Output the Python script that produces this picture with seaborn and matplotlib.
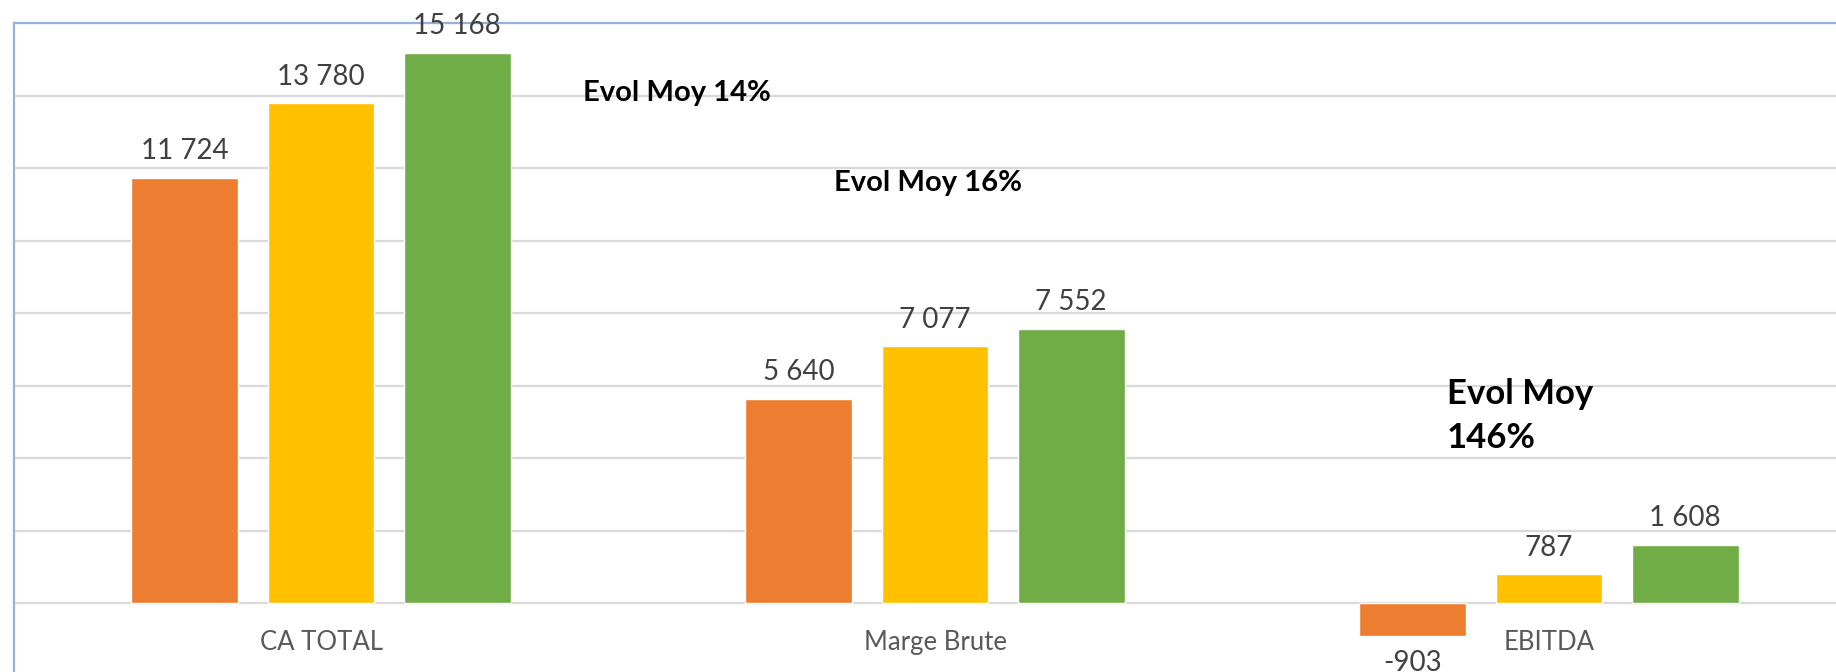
import matplotlib
matplotlib.use('Agg')
import matplotlib.pyplot as plt
import seaborn as sns
import pandas as pd

# Data
categories = ['CA TOTAL', 'Marge Brute', 'EBITDA']
series = ['Année 1', 'Année 2', 'Année 3']
annee1 = [11724, 5640, -903]
annee2 = [13780, 7077, 787]
annee3 = [15168, 7552, 1608]
colors = ['#ED7D31', '#FFC000', '#70AD47']

notes = ['Evol Moy 14%', 'Evol Moy 16%', 'Evol Moy\n146%']

rows = []
for s, vals in zip(series, [annee1, annee2, annee3]):
    for c, v in zip(categories, vals):
        rows.append({'categorie': c, 'serie': s, 'valeur': v})
df = pd.DataFrame(rows)

sns.set_style('white')
plt.rcParams['font.family'] = ['Lato', 'DejaVu Sans']

fig = plt.figure(figsize=(18.36, 6.72), dpi=100)
ax = fig.add_axes([14 / 1836, 0, 1842 / 1836, 1 - 23 / 672])

sns.barplot(data=df, x='categorie', y='valeur', hue='serie', order=categories,
            hue_order=series, palette=colors, saturation=1, errorbar=None,
            width=0.665, gap=0.214, legend=False, ax=ax)

ax.set_xlim(-0.5, 2.5)
ax.set_ylim(-1903, 16000)
ax.set_yticks(range(0, 16001, 2000))
ax.yaxis.grid(True, color='#D9D9D9', linewidth=1.6)
ax.set_axisbelow(True)
ax.tick_params(left=False, bottom=False, labelleft=False, labelbottom=False)
ax.set_xlabel('')
ax.set_ylabel('')

for side in ['bottom', 'right']:
    ax.spines[side].set_visible(False)
for side in ['top', 'left']:
    ax.spines[side].set_color('#95B3D7')
    ax.spines[side].set_linewidth(1.6)

# data labels with space as thousands separator
for cont in ax.containers:
    labels = [f'{b.get_height():,.0f}'.replace(',', ' ') for b in cont]
    ax.bar_label(cont, labels=labels, padding=10, fontsize=20, color='#404040')

# category labels
for i, c in enumerate(categories):
    ax.text(i, -1103, c, ha='center', va='center', fontsize=18.5, color='#595959')

# average evolution notes
ax.text(0.426, 14080, notes[0], ha='left', va='center', fontsize=21,
        fontweight='bold', color='black')
ax.text(0.835, 11590, notes[1], ha='left', va='center', fontsize=21,
        fontweight='bold', color='black')
ax.text(1.834, 5150, notes[2], ha='left', va='center', fontsize=25,
        fontweight='bold', color='black', linespacing=1.45)

plt.savefig('out.png', dpi=100)
plt.close()
